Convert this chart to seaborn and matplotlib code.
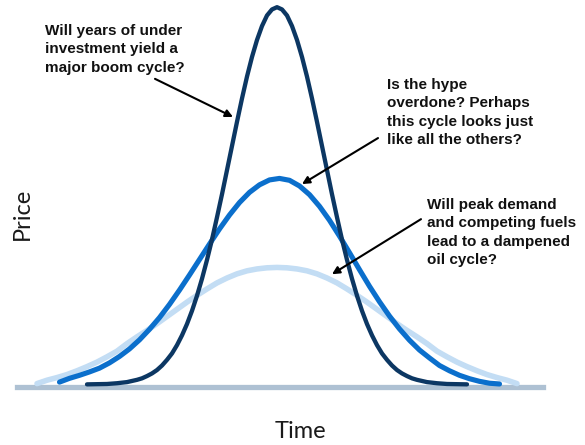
import matplotlib
matplotlib.use("Agg")
import matplotlib.pyplot as plt
import pandas as pd
import seaborn as sns

# Three stylised oil price cycles (time vs. price, peak of the boom cycle = 100)
boom_time = [14, 16, 18, 20, 22, 24, 25, 26, 27, 28, 29, 30, 31, 32, 33, 34, 35, 36, 37, 38,
             39, 40, 41, 42, 43, 44, 45, 46, 47, 48, 49, 50, 51, 52,
             53, 54, 55, 56, 57, 58, 59, 60, 61, 62, 63, 64, 65, 66, 67, 68, 69, 70,
             71, 72, 73, 74, 75, 76, 77, 78, 79, 80, 82, 84, 86, 88, 90]
boom_price = [0.0, 0.05, 0.1, 0.3, 0.6, 1.2, 1.6, 2.2, 2.9, 3.8, 5.0, 6.5, 8.2, 10.4, 13.0,
              16.0, 19.5, 23.5, 28.0, 33.0, 38.4, 44.3, 50.4, 56.8, 63.2, 69.6, 75.8, 81.6,
              86.8, 91.3, 95.0, 97.8, 99.4, 100,
              99.4, 97.8, 95.0, 91.3, 86.8, 81.6, 75.8, 69.6, 63.2, 56.8, 50.4, 44.3, 38.4,
              33.0, 28.0, 23.5, 19.5, 16.0, 13.0, 10.4, 8.2, 6.5, 5.0, 3.8, 2.9, 2.2, 1.6,
              1.2, 0.6, 0.3, 0.1, 0.05, 0.0]

normal_time = [8.5, 10.5, 12.5, 14.5, 16.5, 18.5, 20.5, 22.5, 24.5, 26.5, 28.5, 30.5,
               32.5, 34.5, 36.5, 38.5, 40.5, 42.5, 44.5, 46.5, 48.5, 50.5, 52.5,
               54.5, 56.5, 58.5, 60.5, 62.5, 64.5, 66.5, 68.5, 70.5, 72.5, 74.5, 76.5,
               78.5, 80.5, 82.5, 84.5, 86.5, 88.5, 90.5, 92.5, 94.5, 96.5]
normal_price = [0.6, 1.6, 2.4, 3.3, 4.3, 5.7, 7.4, 9.4, 11.8, 14.6, 17.7, 21.2,
                25.0, 29.0, 33.1, 37.2, 41.2, 44.9, 48.2, 50.9, 52.9, 54.2, 54.6,
                54.1, 52.6, 50.3, 47.2, 43.5, 39.3, 34.9, 30.4, 26.0, 21.9, 18.1, 14.7,
                11.7, 9.1, 7.0, 5.0, 3.6, 2.4, 1.5, 0.8, 0.3, 0.1]

damped_time = [4, 6, 8, 10, 12, 14, 16, 18, 20, 22, 24, 26, 28, 30, 32, 34, 36, 38, 40,
               42, 44, 46, 48, 50, 52,
               54, 56, 58, 60, 62, 64, 66, 68, 70, 72, 74, 76, 78, 80, 82, 84, 86, 88,
               90, 92, 94, 96, 98, 100]
damped_price = [0.2, 1.1, 1.8, 2.6, 3.6, 4.7, 5.9, 7.3, 8.8, 10.8, 12.6, 14.3, 16.1, 18.0,
                19.9, 21.8, 23.6, 25.3, 26.9, 28.2, 29.3, 30.1, 30.6, 30.9, 31.0,
                30.9, 30.6, 30.1, 29.3, 28.2, 26.9, 25.3, 23.6, 21.8, 19.9, 18.0, 16.1,
                14.3, 12.6, 10.8, 8.8, 7.3, 5.9, 4.7, 3.6, 2.6, 1.8, 1.1, 0.2]

questions = [
    "Will years of under\ninvestment yield a\nmajor boom cycle?",
    "Is the hype\noverdone? Perhaps\nthis cycle looks just\nlike all the others?",
    "Will peak demand\nand competing fuels\nlead to a dampened\noil cycle?",
]
# arrow tail and head for each question, in (time, price)
arrow_tails = [(27.6, 81.0), (72.2, 65.3), (80.8, 43.8)]
arrow_heads = [(43.2, 70.9), (57.0, 53.1), (63.0, 29.2)]

frames = [
    pd.DataFrame({"Time": damped_time, "Price": damped_price, "cycle": "damped"}),
    pd.DataFrame({"Time": normal_time, "Price": normal_price, "cycle": "normal"}),
    pd.DataFrame({"Time": boom_time, "Price": boom_price, "cycle": "boom"}),
]
styles = {
    "damped": dict(color="#c3ddf4", lw=4.0),
    "normal": dict(color="#0b6fcc", lw=3.7),
    "boom": dict(color="#0c3763", lw=3.1),
}

sns.set_style("white")
plt.rcParams["font.family"] = ["Liberation Sans", "DejaVu Sans"]

W, H = 585, 445
fig = plt.figure(figsize=(W / 100, H / 100), dpi=100)
# bottom spine doubles as the time baseline
ax = fig.add_axes([17 / W, (H - 387) / H, 526 / W, 380.2 / H])

for z, df in enumerate(frames):
    name = df["cycle"].iloc[0]
    sns.lineplot(data=df, x="Time", y="Price", ax=ax, sort=False,
                 color=styles[name]["color"], linewidth=styles[name]["lw"],
                 solid_capstyle="round", solid_joinstyle="round",
                 zorder=3 + z, clip_on=False)

ax.set_xlim(0, 105.2)
ax.set_ylim(-0.7, 100.1)
ax.set_xticks([])
ax.set_yticks([])
ax.set_xlabel("")
ax.set_ylabel("")
for side in ("top", "left", "right"):
    ax.spines[side].set_visible(False)
ax.spines["bottom"].set_color("#aec1d3")
ax.spines["bottom"].set_linewidth(3.8)
ax.spines["bottom"].set_zorder(2)

for tail, head in zip(arrow_tails, arrow_heads):
    ax.annotate("", xy=head, xytext=tail, xycoords="data", textcoords="data",
                arrowprops=dict(arrowstyle="-|>", color="black", lw=1.5,
                                mutation_scale=11, shrinkA=0, shrinkB=0),
                zorder=10, annotation_clip=False)

text_pos = [(45, 24), (387, 78), (427, 198)]
for (px, py), q in zip(text_pos, questions):
    fig.text(px / W, 1 - py / H, q, ha="left", va="top", fontsize=11,
             fontweight="bold", linespacing=1.4, color="#111111")

label_font = ["Lato", "DejaVu Sans"]
fig.text(300 / W, 1 - 431 / H, "Time", ha="center", va="center",
         fontsize=17, family=label_font, color="#1a1a1a")
fig.text(22 / W, 1 - 214 / H, "Price", ha="center", va="center", rotation=90,
         fontsize=17, family=label_font, color="#1a1a1a")

fig.savefig("out.png", dpi=100)
